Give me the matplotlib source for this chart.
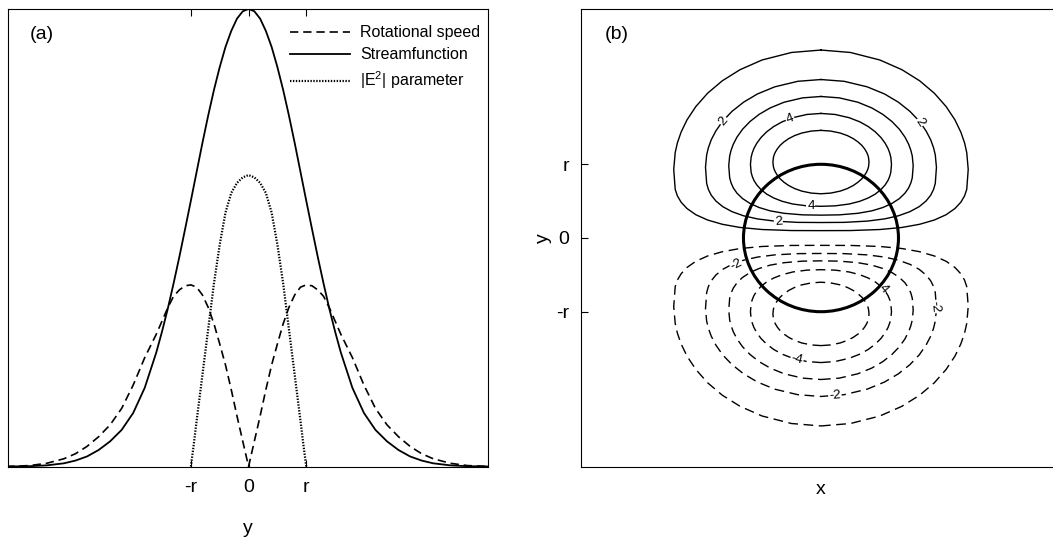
import numpy as np
import matplotlib
matplotlib.use("Agg")
import matplotlib.pyplot as plt

# --- Panel (a): profiles across the vortex, y in units of r (y >= 0 half) ---
Y_POS = [0.0, 0.1, 0.2, 0.3, 0.4, 0.5, 0.6, 0.7, 0.8, 0.9, 1.0, 1.1, 1.2, 1.3,
         1.4, 1.5, 1.6, 1.8, 2.0, 2.2, 2.4, 2.6, 2.8, 3.0, 3.2, 3.5, 3.8, 4.2]
STREAM = [1.000, 0.995, 0.979, 0.952, 0.917, 0.873, 0.823, 0.767, 0.707, 0.644,
          0.581, 0.519, 0.458, 0.400, 0.345, 0.295, 0.249, 0.172, 0.117, 0.080,
          0.055, 0.036, 0.022, 0.013, 0.007, 0.0025, 0.0007, 0.0]
SPEED = [0.000, 0.055, 0.110, 0.168, 0.222, 0.268, 0.312, 0.348, 0.375, 0.392,
         0.397, 0.395, 0.386, 0.372, 0.347, 0.318, 0.289, 0.238, 0.178, 0.127,
         0.091, 0.065, 0.044, 0.028, 0.017, 0.007, 0.002, 0.0]
# |E^2| only drawn inside the vortex core
Y_CORE = [0.0, 0.1, 0.2, 0.3, 0.4, 0.5, 0.6, 0.7, 0.8, 0.9, 0.95, 1.0]
E2 = [0.637, 0.632, 0.620, 0.598, 0.555, 0.485, 0.400, 0.300, 0.200, 0.100, 0.048, 0.0]

# --- Panel (b): contour lines of the upper lobe, right half (top -> bottom) ---
C1_X = [0, 0.38, 0.76, 1.045, 1.273, 1.463, 1.615, 1.729, 1.805, 1.853, 1.881, 1.90,
        1.881, 1.853, 1.805, 1.729, 1.615, 1.463, 1.273, 1.045, 0.76, 0.38, 0]
C1_Y = [2.55, 2.517, 2.415, 2.283, 2.133, 1.964, 1.783, 1.602, 1.436, 1.290, 1.159, 0.93,
        0.660, 0.572, 0.486, 0.400, 0.316, 0.244, 0.186, 0.143, 0.115, 0.101, 0.10]
C2_X = [0, 0.298, 0.596, 0.820, 0.998, 1.147, 1.267, 1.356, 1.416, 1.453, 1.475, 1.49,
        1.475, 1.453, 1.416, 1.356, 1.267, 1.147, 0.998, 0.820, 0.596, 0.298, 0]
C2_Y = [2.15, 2.126, 2.051, 1.954, 1.843, 1.719, 1.587, 1.453, 1.332, 1.224, 1.128, 0.96,
        0.740, 0.659, 0.581, 0.502, 0.425, 0.357, 0.301, 0.259, 0.229, 0.212, 0.21]
C3_X = [0, 0.238, 0.476, 0.655, 0.797, 0.916, 1.012, 1.083, 1.131, 1.160, 1.178, 1.19,
        1.178, 1.160, 1.131, 1.083, 1.012, 0.916, 0.797, 0.655, 0.476, 0.238, 0]
C3_Y = [1.92, 1.901, 1.842, 1.765, 1.678, 1.580, 1.475, 1.370, 1.273, 1.189, 1.113, 0.98,
        0.816, 0.748, 0.679, 0.607, 0.535, 0.469, 0.413, 0.368, 0.335, 0.314, 0.31]
C4_X = [0, 0.182, 0.364, 0.501, 0.610, 0.701, 0.774, 0.828, 0.865, 0.887, 0.901, 0.91,
        0.901, 0.887, 0.865, 0.828, 0.774, 0.701, 0.610, 0.501, 0.364, 0.182, 0]
C4_Y = [1.69, 1.676, 1.632, 1.576, 1.512, 1.440, 1.363, 1.286, 1.215, 1.153, 1.097, 1.0,
        0.890, 0.837, 0.781, 0.720, 0.657, 0.596, 0.543, 0.498, 0.461, 0.436, 0.43]
C5_X = [0, 0.124, 0.248, 0.341, 0.415, 0.477, 0.527, 0.564, 0.589, 0.605, 0.614, 0.62,
        0.614, 0.605, 0.589, 0.564, 0.527, 0.477, 0.415, 0.341, 0.248, 0.124, 0]
C5_Y = [1.46, 1.451, 1.424, 1.389, 1.349, 1.304, 1.257, 1.208, 1.164, 1.126, 1.091, 1.03,
        0.969, 0.934, 0.896, 0.852, 0.803, 0.756, 0.711, 0.671, 0.636, 0.609, 0.60]

# contour labels: (text, x, y, rotation)
LABELS = [("2", -1.26, 1.59, 50), ("4", -0.40, 1.617, 21), ("2", 1.28, 1.57, -55),
          ("4", -0.13, 0.435, 0), ("2", -0.55, 0.226, 4),
          ("-2", -1.09, -0.36, 27), ("4", 0.80, -0.69, -48), ("-2", 1.47, -0.93, -85),
          ("-4", -0.31, -1.645, -13), ("-2", 0.18, -2.14, 4)]

plt.rcParams["font.family"] = ["Liberation Sans", "DejaVu Sans"]
plt.rcParams["mathtext.fontset"] = "custom"
plt.rcParams["mathtext.rm"] = "Liberation Sans"
plt.rcParams["mathtext.default"] = "regular"
plt.rcParams["lines.scale_dashes"] = False

fig = plt.figure(figsize=(10.53, 5.48), dpi=100)
ax1 = fig.add_axes([0.0076, 0.1487, 0.4558, 0.8349])
ax2 = fig.add_axes([0.5515, 0.1478, 0.4563, 0.8358])

# mirror the half profiles to both sides of y = 0
y_full = [-v for v in Y_POS[::-1]] + Y_POS[1:]
stream_full = STREAM[::-1] + STREAM[1:]
speed_full = SPEED[::-1] + SPEED[1:]
yc_full = [-v for v in Y_CORE[::-1]] + Y_CORE[1:]
e2_full = E2[::-1] + E2[1:]

ax1.plot(y_full, speed_full, color="k", lw=1.2, linestyle=(0, (6, 3.5)), label="Rotational speed")
ax1.plot(y_full, stream_full, color="k", lw=1.3, label="Streamfunction")
ax1.plot(yc_full, e2_full, color="k", lw=1.6, linestyle=(0, (1.0, 1.1)),
         label=r"|E$^{2}$| parameter")

ax1.set_xlim(-4.17, 4.15)
ax1.set_ylim(0, 1)
ax1.set_xticks([-1, 0, 1])
ax1.set_xticklabels(["-r", "0", "r"], fontsize=14)
ax1.set_yticks([])
ax1.tick_params(axis="x", direction="in", top=True, length=5, pad=9)
ax1.set_xlabel("y", fontsize=14, labelpad=17)
ax1.text(0.07, 0.945, "(a)", transform=ax1.transAxes, fontsize=14, ha="center", va="center")
ax1.legend(loc="upper right", bbox_to_anchor=(1.0, 0.982), frameon=False, fontsize=11.5,
           handlelength=3.75, handletextpad=0.6, labelspacing=0.45, borderpad=0,
           borderaxespad=0.5)

# --- Panel (b) ---
contours = [(C1_X, C1_Y), (C2_X, C2_Y), (C3_X, C3_Y), (C4_X, C4_Y), (C5_X, C5_Y)]
for cx, cy in contours:
    xs = cx + [-v for v in cx[::-1]][1:]
    ys = cy + cy[::-1][1:]
    ax2.plot(xs, ys, color="k", lw=1.0)
    ax2.plot(xs, [-v for v in ys], color="k", lw=1.0, linestyle=(0, (7, 4)))

for txt, lx, ly, rot in LABELS:
    ax2.text(lx, ly, txt, fontsize=9.5, rotation=rot, ha="center", va="center",
             rotation_mode="anchor",
             bbox=dict(facecolor="white", edgecolor="none", pad=0.6), zorder=3)

circle = plt.Circle((0, 0), 1.0, fill=False, color="k", lw=2.2, zorder=4)
ax2.add_patch(circle)

ax2.set_xlim(-3.1, 3.1)
ax2.set_ylim(-3.107, 3.107)
ax2.set_xticks([])
ax2.set_yticks([-1, 0, 1])
ax2.set_yticklabels(["-r", "0", "r"], fontsize=14)
ax2.tick_params(axis="y", direction="in", right=True, length=5, pad=8)
ax2.set_xlabel("x", fontsize=14, labelpad=10)
ax2.set_ylabel("y", fontsize=14, labelpad=3)
ax2.text(0.075, 0.945, "(b)", transform=ax2.transAxes, fontsize=14, ha="center", va="center")

for ax in (ax1, ax2):
    for s in ax.spines.values():
        s.set_linewidth(0.8)

fig.savefig("out.png", dpi=100)
